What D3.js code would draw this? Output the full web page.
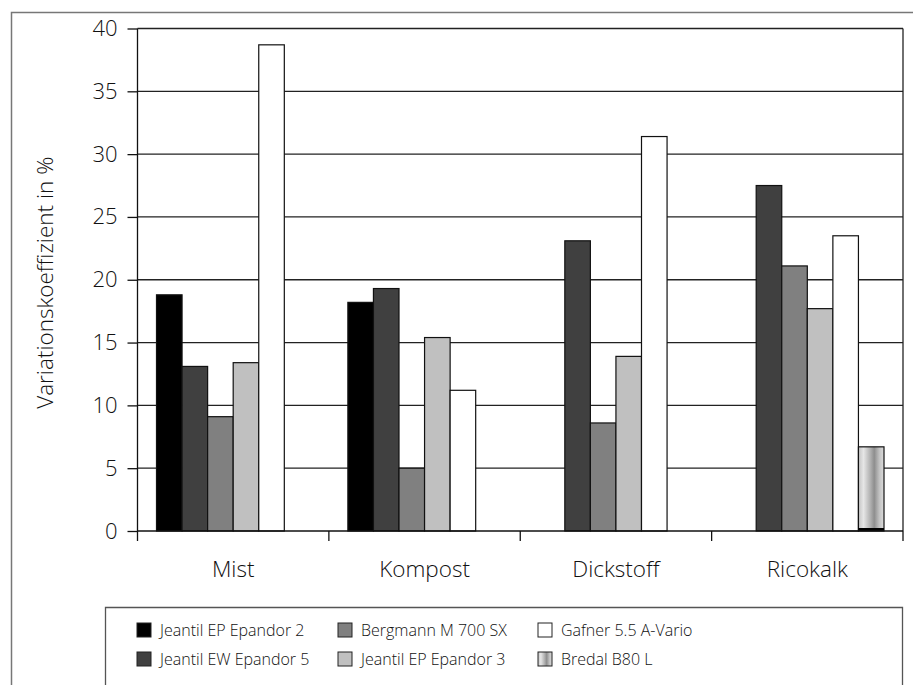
<!DOCTYPE html>
<html>
<head>
<meta charset="utf-8">
<script src="https://cdn.jsdelivr.net/npm/d3@7/dist/d3.min.js"></script>
<style>
  html, body { margin: 0; padding: 0; background: #fff; }
  svg { display: block; font-family: "Open Sans", "Noto Sans", sans-serif; font-weight: 300; }
</style>
</head>
<body>
<svg id="chart" width="913" height="685"></svg>
<script>
// Categories (spread material) and spreader series
const categories = ["Mist", "Kompost", "Dickstoff", "Ricokalk"];
const seriesNames = [
  "Jeantil EP Epandor 2",
  "Jeantil EW Epandor 5",
  "Bergmann M 700 SX",
  "Jeantil EP Epandor 3",
  "Gafner 5.5 A-Vario",
  "Bredal B80 L"
];
// Coefficient of variation in %, one value per category (null = not tested)
const epandor2Values = [18.8, 18.2, null, null];
const epandor5Values = [13.1, 19.3, 23.1, 27.5];
const bergmannValues = [9.1, 5.0, 8.6, 21.1];
const epandor3Values = [13.4, 15.4, 13.9, 17.7];
const gafnerValues   = [38.7, 11.2, 31.4, 23.5];
const bredalValues   = [null, null, null, 6.7];
const yTicks = [0, 5, 10, 15, 20, 25, 30, 35, 40];

const seriesValues = [epandor2Values, epandor5Values, bergmannValues, epandor3Values, gafnerValues, bredalValues];
const fills = ["#000000", "#404040", "#808080", "#c0c0c0", "#ffffff", "url(#bredalGrad)"];

const svg = d3.select("#chart");

// gradient used for the Bredal series
const defs = svg.append("defs");
const grad = defs.append("linearGradient").attr("id", "bredalGrad")
  .attr("x1", "0%").attr("x2", "100%").attr("y1", "0%").attr("y2", "0%");
[[0, "#c4c4c4"], [0.2, "#e6e6e6"], [0.45, "#b4b4b4"], [0.62, "#8e8e8e"], [0.82, "#c2c2c2"], [1, "#dcdcdc"]]
  .forEach(([o, c]) => grad.append("stop").attr("offset", o).attr("stop-color", c));

// outer frame
svg.append("path")
  .attr("d", "M11.5,690 V12.5 H920")
  .attr("fill", "none").attr("stroke", "#777").attr("stroke-width", 1.5);

const plot = { left: 137.5, right: 903, top: 28.5, bottom: 531 };

const x0 = d3.scaleBand().domain(categories).range([plot.left, plot.right]).padding(0);
const inner = x0.bandwidth();
const x1 = d3.scaleBand().domain(d3.range(seriesNames.length)).range([19, inner - 19]).padding(0);
const y = d3.scaleLinear().domain([0, 40]).range([plot.bottom, plot.top]);

// horizontal gridlines
svg.append("g").selectAll("line").data(yTicks.filter(t => t > 0)).join("line")
  .attr("x1", plot.left).attr("x2", plot.right)
  .attr("y1", d => y(d)).attr("y2", d => y(d))
  .attr("stroke", "#222").attr("stroke-width", 1.3);

// right border of the plot area
svg.append("line")
  .attr("x1", plot.right).attr("x2", plot.right)
  .attr("y1", plot.top).attr("y2", plot.bottom)
  .attr("stroke", "#222").attr("stroke-width", 1.3);

// bars
const bars = [];
categories.forEach((c, ci) => {
  seriesValues.forEach((vals, si) => {
    if (vals[ci] != null) bars.push({ cat: c, si, v: vals[ci] });
  });
});

svg.append("g").selectAll("rect").data(bars).join("rect")
  .attr("x", d => x0(d.cat) + x1(d.si))
  .attr("y", d => y(d.v))
  .attr("width", x1.bandwidth())
  .attr("height", d => y(0) - y(d.v))
  .attr("fill", d => fills[d.si])
  .attr("stroke", "#111").attr("stroke-width", 1.2);

// dark base edge of the gradient bars
svg.append("g").selectAll("line").data(bars.filter(d => d.si === 5)).join("line")
  .attr("x1", d => x0(d.cat) + x1(d.si)).attr("x2", d => x0(d.cat) + x1(d.si) + x1.bandwidth())
  .attr("y1", y(0) - 1.5).attr("y2", y(0) - 1.5)
  .attr("stroke", "#000").attr("stroke-width", 3);

// y axis
const yAxis = svg.append("g").attr("transform", `translate(${plot.left},0)`)
  .call(d3.axisLeft(y).tickValues(yTicks).tickSize(10).tickPadding(10).tickFormat(d3.format("d")));
yAxis.select(".domain").attr("stroke", "#111").attr("stroke-width", 1.3)
  .attr("d", `M0,${plot.top}V${plot.bottom}`);
yAxis.selectAll(".tick line").attr("stroke", "#111").attr("stroke-width", 1.3);
yAxis.selectAll(".tick text").attr("font-size", 22).attr("fill", "#111")
  .attr("font-family", "Open Sans, sans-serif").attr("font-weight", 300);

// x axis: ticks at category boundaries
const xAxis = svg.append("g").attr("transform", `translate(0,${plot.bottom})`);
xAxis.append("line").attr("x1", plot.left).attr("x2", plot.right)
  .attr("y1", 0).attr("y2", 0).attr("stroke", "#111").attr("stroke-width", 1.5);
const bounds = categories.map(c => x0(c)).concat([x0(categories[categories.length - 1]) + inner]);
xAxis.selectAll("line.tk").data(bounds).join("line").attr("class", "tk")
  .attr("x1", d => d).attr("x2", d => d).attr("y1", 0).attr("y2", 10)
  .attr("stroke", "#111").attr("stroke-width", 1.3);
xAxis.selectAll("text").data(categories).join("text")
  .attr("x", d => x0(d) + inner / 2).attr("y", 46)
  .attr("text-anchor", "middle").attr("font-size", 22.5).attr("fill", "#111")
  .text(d => d);

// y axis title
svg.append("text")
  .attr("transform", `translate(53,${(plot.top + plot.bottom) / 2 + 3}) rotate(-90)`)
  .attr("text-anchor", "middle").attr("font-size", 22.5).attr("fill", "#111")
  .text("Variationskoeffizient in %");

// legend
svg.append("path").attr("d", "M105.5,700 V607.5 H902.5 V700")
  .attr("fill", "none").attr("stroke", "#555").attr("stroke-width", 1.3);
const legCols = [137, 338, 538];
const legRows = [623, 652];
const legend = svg.append("g").selectAll("g").data(seriesNames).join("g")
  .attr("transform", (d, i) => `translate(${legCols[Math.floor(i / 2)]},${legRows[i % 2]})`);
legend.append("rect").attr("width", 14).attr("height", 14)
  .attr("fill", (d, i) => fills[i]).attr("stroke", "#222").attr("stroke-width", 1);
legend.append("text").attr("x", 23).attr("y", 13).attr("font-size", 16).attr("fill", "#111")
  .text(d => d);
</script>
</body>
</html>
